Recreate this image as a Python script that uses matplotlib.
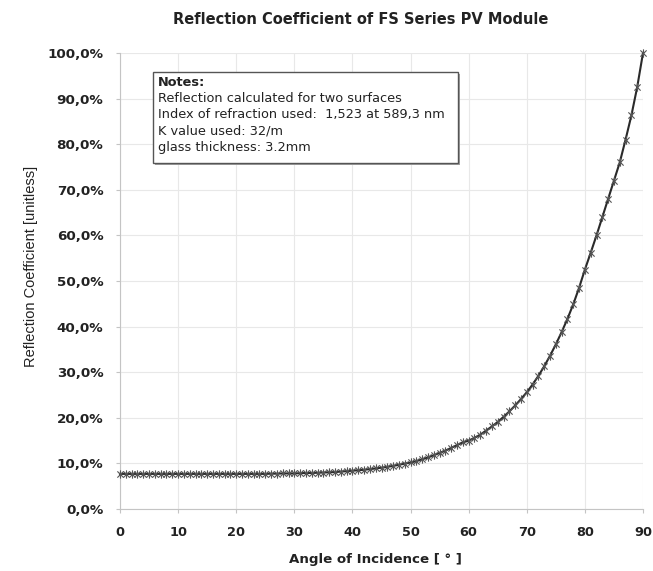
import matplotlib
matplotlib.use("Agg")
import matplotlib.pyplot as plt
from matplotlib.ticker import FuncFormatter, MultipleLocator
from matplotlib.path import Path
from matplotlib.patches import Rectangle

angles = list(range(0, 91))
reflection = [
    7.7, 7.7, 7.7, 7.7, 7.7, 7.7, 7.7, 7.7, 7.7, 7.7,
    7.7, 7.7, 7.7, 7.7, 7.7, 7.7, 7.7, 7.7, 7.7, 7.7,
    7.7, 7.7, 7.7, 7.7, 7.7, 7.7, 7.75, 7.75, 7.8, 7.8,
    7.8, 7.85, 7.9, 7.9, 7.95, 8.0, 8.05, 8.1, 8.2, 8.3,
    8.4, 8.5, 8.6, 8.75, 8.9, 9.05, 9.25, 9.45, 9.7, 9.95,
    10.2, 10.5, 10.9, 11.3, 11.8, 12.3, 12.8, 13.4, 14.0, 14.6,
    15.0, 15.6, 16.3, 17.2, 18.1, 19.1, 20.2, 21.4, 22.7, 24.1,
    25.6, 27.3, 29.2, 31.3, 33.6, 36.1, 38.8, 41.7, 44.9, 48.5,
    52.5, 56.2, 60.0, 64.0, 68.0, 72.0, 76.0, 81.0, 86.3, 92.5,
    100.0,
]

title = "Reflection Coefficient of FS Series PV Module"
xlabel = "Angle of Incidence [ ° ]"
ylabel = "Reflection Coefficient [unitless]"
notes_title = "Notes:"
notes_lines = [
    "Reflection calculated for two surfaces",
    "Index of refraction used:  1,523 at 589,3 nm",
    "K value used: 32/m",
    "glass thickness: 3.2mm",
]

plt.rcParams['font.family'] = ['DejaVu Sans']

W, H = 653, 571
x0, x1, y_top, y_bot = 120, 643, 53, 509
fig = plt.figure(figsize=(W / 100, H / 100), dpi=100)
ax = fig.add_axes([x0 / W, 1 - y_bot / H, (x1 - x0) / W, (y_bot - y_top) / H])

star = Path([(0, -1), (0, 1), (-0.75, -0.75), (0.75, 0.75), (-0.75, 0.75), (0.75, -0.75)],
            [Path.MOVETO, Path.LINETO, Path.MOVETO, Path.LINETO, Path.MOVETO, Path.LINETO])

ax.plot(angles, [v / 100 for v in reflection], color='#2a2a2a', lw=1.5,
        marker=star, markersize=6, markeredgewidth=0.8, markeredgecolor='#555555',
        clip_on=False, zorder=3)

ax.set_xlim(0, 90)
ax.set_ylim(0, 1.0)
ax.xaxis.set_major_locator(MultipleLocator(10))
ax.yaxis.set_major_locator(MultipleLocator(0.1))
ax.yaxis.set_major_formatter(FuncFormatter(lambda v, p: f"{v*100:.1f}%".replace('.', ',')))

ax.grid(True, color='#e8e8e8', lw=0.8)
ax.set_axisbelow(True)
for s in ['top', 'right']:
    ax.spines[s].set_visible(False)
for s in ['left', 'bottom']:
    ax.spines[s].set_color('#c4c4c4')
ax.tick_params(axis='y', length=3, color='#c4c4c4', labelsize=9.7, pad=9)
ax.tick_params(axis='x', length=3, color='#c4c4c4', labelsize=9.3, pad=9)
for lbl in ax.get_xticklabels() + ax.get_yticklabels():
    lbl.set_fontweight('bold')
    lbl.set_color('#222222')

ax.set_xlabel(xlabel, fontsize=9.6, fontweight='bold', color='#222222')
ax.xaxis.set_label_coords((375 - x0) / (x1 - x0), -(553 - y_bot) / (y_bot - y_top))
ax.set_ylabel(ylabel, fontsize=10.5, family='Liberation Sans', color='#222222')
ax.yaxis.set_label_coords(-(x0 - 38) / (x1 - x0), (y_bot - 266) / (y_bot - y_top))
fig.text(361 / W, 1 - 19 / H, title, ha='center', va='center', fontsize=10.5,
         fontweight='bold', color='#222222')

# notes box
bl, br, bt, bb = 153, 458, 72, 163
bx0, by0 = bl / W, 1 - bb / H
bw, bh = (br - bl) / W, (bb - bt) / H
fig.patches.append(Rectangle((bx0 + 0.003, by0 - 0.004), bw, bh, transform=fig.transFigure,
                             facecolor='#a0a0a0', edgecolor='none', zorder=4))
fig.patches.append(Rectangle((bx0, by0), bw, bh, transform=fig.transFigure,
                             facecolor='white', edgecolor='#555555', lw=1.0, zorder=5))
tx = 158 / W
fig.text(tx, 1 - 82 / H, notes_title, fontsize=9.3, fontweight='bold', va='center',
         color='#222222', zorder=6)
for i, line in enumerate(notes_lines):
    fig.text(tx, 1 - (98.5 + i * 16.2) / H, line, fontsize=9.3, va='center',
             color='#222222', zorder=6)

fig.savefig("out.png", dpi=100)
